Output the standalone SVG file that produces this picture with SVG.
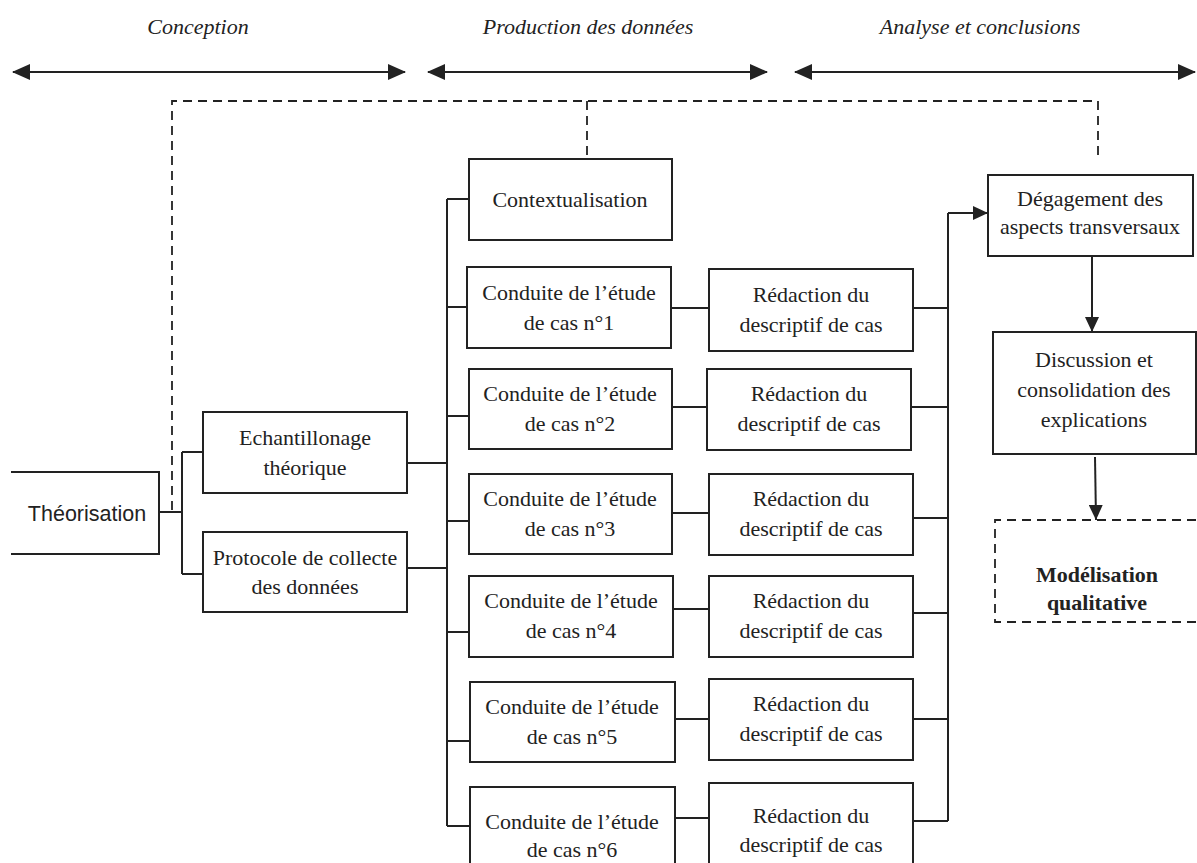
<svg xmlns="http://www.w3.org/2000/svg" width="1197" height="863" viewBox="0 0 1197 863">
<style>
.box{fill:#fff;stroke:#222;stroke-width:2}
.dbox{fill:none;stroke:#222;stroke-width:1.8;stroke-dasharray:9,6}
.t{font-family:"Liberation Serif",serif;font-size:22px;fill:#222;text-anchor:middle}
.h{font-family:"Liberation Serif",serif;font-size:22px;font-style:italic;fill:#222;text-anchor:middle}
.b{font-weight:bold}
.s{font-family:"Liberation Sans",Arial,sans-serif;font-size:21.5px;fill:#222;text-anchor:middle}
.ln{fill:none;stroke:#222;stroke-width:2}
.dl{fill:none;stroke:#222;stroke-width:1.8;stroke-dasharray:9,6}
</style>
<defs>
<marker id="ah" markerUnits="userSpaceOnUse" markerWidth="18" markerHeight="16" refX="17" refY="8" orient="auto-start-reverse">
<path d="M0,0 L18,8 L0,16 Z" fill="#222"/>
</marker>
<marker id="ah2" markerUnits="userSpaceOnUse" markerWidth="15" markerHeight="14" refX="15" refY="7" orient="auto">
<path d="M0,0 L15,7 L0,14 Z" fill="#222"/>
</marker>
</defs>
<rect width="1197" height="863" fill="#fff"/>

<g id="headers">
<text class="h" x="198" y="34">Conception</text>
<text class="h" x="588" y="34">Production des données</text>
<text class="h" x="980" y="34">Analyse et conclusions</text>
</g>

<g id="connectors">
<line class="ln" x1="13" y1="72" x2="405" y2="72" marker-start="url(#ah)" marker-end="url(#ah)"/>
<line class="ln" x1="428" y1="72" x2="767" y2="72" marker-start="url(#ah)" marker-end="url(#ah)"/>
<line class="ln" x1="795" y1="72" x2="1195" y2="72" marker-start="url(#ah)" marker-end="url(#ah)"/>
<path class="dl" d="M172,510 V101 H1098 V158"/>
<path class="dl" d="M587,101 V157"/>
<path class="ln" d="M159,512 H182 M182,452 V574 M182,452 H203 M182,574 H203"/>
<path class="ln" d="M407,463 H447 M407,568 H447"/>
<path class="ln" d="M447,199 V826 M447,199 H469 M447,307 H467 M447,416 H469 M447,521 H469 M447,632 H469 M447,741 H470 M447,826 H470"/>
<path class="ln" d="M671,308 H709 M672,407 H707 M672,513 H709 M673,609 H709 M675,719 H709 M675,818 H709"/>
<path class="ln" d="M913,308 H948 M911,407 H948 M913,518 H948 M913,613 H948 M913,719 H948 M913,821 H948 M948,821 V213"/>
<line class="ln" x1="948" y1="213" x2="988" y2="213" marker-end="url(#ah2)"/>
<line class="ln" x1="1092" y1="256" x2="1092" y2="332" marker-end="url(#ah2)"/>
<line class="ln" x1="1095" y1="457" x2="1096" y2="520" marker-end="url(#ah2)"/>
</g>

<g id="theorisation">
<path class="box" d="M11,472 H159 V554 H11"/>
<text class="s" x="87" y="521">Théorisation</text>
</g>
<g id="echantillonage">
<rect class="box" x="203" y="412" width="204" height="81"/>
<text class="t" x="305" y="445">Echantillonage</text>
<text class="t" x="305" y="475">théorique</text>
</g>
<g id="protocole">
<rect class="box" x="203" y="532" width="204" height="80"/>
<text class="t" x="305" y="565">Protocole de collecte</text>
<text class="t" x="305" y="594">des données</text>
</g>
<g id="contextualisation">
<rect class="box" x="469" y="159" width="203" height="81"/>
<text class="t" x="570" y="207">Contextualisation</text>
</g>

<g id="cas1">
<rect class="box" x="467" y="267" width="204" height="81"/>
<text class="t" x="569" y="300">Conduite de l’étude</text>
<text class="t" x="569" y="330">de cas n°1</text>
</g>
<g id="red1">
<rect class="box" x="709" y="269" width="204" height="82"/>
<text class="t" x="811" y="302">Rédaction du</text>
<text class="t" x="811" y="332">descriptif de cas</text>
</g>
<g id="cas2">
<rect class="box" x="469" y="369" width="203" height="80"/>
<text class="t" x="570" y="401">Conduite de l’étude</text>
<text class="t" x="570" y="431">de cas n°2</text>
</g>
<g id="red2">
<rect class="box" x="707" y="369" width="204" height="81"/>
<text class="t" x="809" y="401">Rédaction du</text>
<text class="t" x="809" y="431">descriptif de cas</text>
</g>
<g id="cas3">
<rect class="box" x="469" y="474" width="203" height="80"/>
<text class="t" x="570" y="506">Conduite de l’étude</text>
<text class="t" x="570" y="536">de cas n°3</text>
</g>
<g id="red3">
<rect class="box" x="709" y="474" width="204" height="81"/>
<text class="t" x="811" y="506">Rédaction du</text>
<text class="t" x="811" y="536">descriptif de cas</text>
</g>
<g id="cas4">
<rect class="box" x="469" y="576" width="204" height="81"/>
<text class="t" x="571" y="608">Conduite de l’étude</text>
<text class="t" x="571" y="638">de cas n°4</text>
</g>
<g id="red4">
<rect class="box" x="709" y="576" width="204" height="81"/>
<text class="t" x="811" y="608">Rédaction du</text>
<text class="t" x="811" y="638">descriptif de cas</text>
</g>
<g id="cas5">
<rect class="box" x="470" y="682" width="205" height="80"/>
<text class="t" x="572" y="714">Conduite de l’étude</text>
<text class="t" x="572" y="744">de cas n°5</text>
</g>
<g id="red5">
<rect class="box" x="709" y="679" width="204" height="81"/>
<text class="t" x="811" y="711">Rédaction du</text>
<text class="t" x="811" y="741">descriptif de cas</text>
</g>
<g id="cas6">
<rect class="box" x="470" y="787" width="205" height="100"/>
<text class="t" x="572" y="829">Conduite de l’étude</text>
<text class="t" x="572" y="857">de cas n°6</text>
</g>
<g id="red6">
<rect class="box" x="709" y="783" width="204" height="100"/>
<text class="t" x="811" y="823">Rédaction du</text>
<text class="t" x="811" y="852">descriptif de cas</text>
</g>

<g id="degagement">
<rect class="box" x="988" y="175" width="205" height="81"/>
<text class="t" x="1090" y="206">Dégagement des</text>
<text class="t" x="1090" y="234">aspects transversaux</text>
</g>
<g id="discussion">
<rect class="box" x="993" y="332" width="203" height="122"/>
<text class="t" x="1094" y="367">Discussion et</text>
<text class="t" x="1094" y="397">consolidation des</text>
<text class="t" x="1094" y="427">explications</text>
</g>
<g id="modelisation">
<path class="dbox" d="M1196,520 H995 V622 H1196"/>
<text class="t b" x="1097" y="582">Modélisation</text>
<text class="t b" x="1097" y="610">qualitative</text>
</g>
</svg>
